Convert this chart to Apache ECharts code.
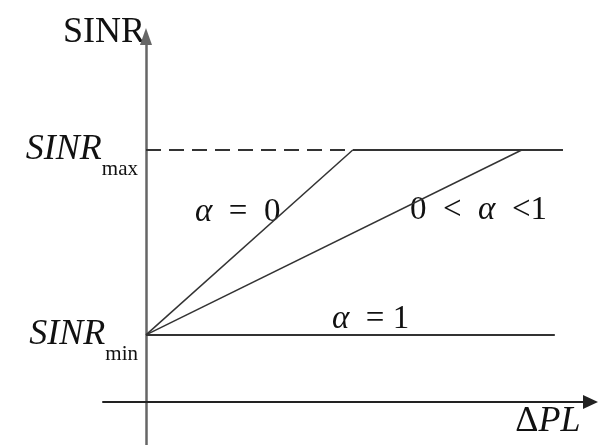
<!DOCTYPE html>
<html>
<head>
<meta charset="utf-8">
<script src="https://cdn.jsdelivr.net/npm/echarts@6/dist/echarts.min.js"></script>
<style>
html, body { margin: 0; padding: 0; background: #fff; }
#chart { width: 598px; height: 445px; }
</style>
</head>
<body>
<div id="chart"></div>
<script>
// axis ranges (y axis sits at x = 0, x axis at y = 0)
var xRange = [-1, 10.34];
var yRange = [-1, 8.5];

// SINR levels and their tick names
var yTickValues = [1.56, 5.86];
var yTickNames = ['min', 'max'];

// curves
var alpha0Line = [[0, 1.56], [4.81, 5.86]];
var alphaMidLine = [[0, 1.56], [8.74, 5.86]];
var alpha1Line = [[0, 1.56], [9.51, 1.56]];
var maxDashed = [[0, 5.86], [4.81, 5.86]];
var maxSolid = [[4.81, 5.86], [9.7, 5.86]];

var serif = 'Liberation Serif';
var ink = '#111';

function lineSeries(data, width, type) {
    return {
        type: 'line',
        data: data,
        showSymbol: false,
        silent: true,
        lineStyle: { color: '#333', width: width, type: type || 'solid' }
    };
}

var option = {
    animation: false,
    grid: {
        left: 103,
        right: 7.5,
        top: 36.5,
        bottom: 0,
        outerBoundsMode: 'none'
    },
    xAxis: {
        type: 'value',
        min: xRange[0],
        max: xRange[1],
        name: '{d|Δ}{p|PL}',
        nameLocation: 'end',
        nameGap: -10,
        nameTextStyle: {
            align: 'right',
            verticalAlign: 'top',
            padding: [2, 0, 0, 0],
            rich: {
                d: { fontFamily: serif, fontSize: 36, color: ink },
                p: { fontFamily: serif, fontSize: 36, fontStyle: 'italic', color: ink }
            }
        },
        axisLine: {
            onZero: true,
            symbol: ['none', 'triangle'],
            symbolSize: [14, 15],
            lineStyle: { color: '#222', width: 2 }
        },
        axisTick: { show: false },
        axisLabel: { show: false },
        splitLine: { show: false }
    },
    yAxis: {
        type: 'value',
        min: yRange[0],
        max: yRange[1],
        name: 'SINR',
        nameLocation: 'end',
        nameGap: 4,
        nameTextStyle: {
            fontFamily: serif,
            fontSize: 36,
            color: ink,
            align: 'right',
            verticalAlign: 'middle',
            padding: [0, 1, 0, 0]
        },
        axisLine: {
            onZero: true,
            symbol: ['none', 'triangle'],
            symbolSize: [12, 17],
            lineStyle: { color: '#666', width: 2.5 }
        },
        axisTick: { show: false },
        splitLine: { show: false },
        axisLabel: {
            customValues: yTickValues,
            margin: -35,
            formatter: function (value) {
                var i = yTickValues.indexOf(value);
                return '{s|SINR}{b|' + yTickNames[i] + '}';
            },
            rich: {
                s: { fontFamily: serif, fontSize: 36, fontStyle: 'italic', color: ink, lineHeight: 36, verticalAlign: 'top' },
                b: { fontFamily: serif, fontSize: 21, color: ink, lineHeight: 21, verticalAlign: 'top', padding: [27, 0, 0, 0] }
            }
        }
    },
    graphic: [
        {
            type: 'text',
            x: 195, y: 212,
            style: {
                text: '{a|α}{n|\u2002=\u20020}',
                verticalAlign: 'middle',
                rich: {
                    a: { fontFamily: serif, fontSize: 33, fontStyle: 'italic', fill: ink },
                    n: { fontFamily: serif, fontSize: 33, fill: ink }
                }
            }
        },
        {
            type: 'text',
            x: 410, y: 210,
            style: {
                text: '{n|0\u2002<\u2002}{a|α}{n|\u2002<1}',
                verticalAlign: 'middle',
                rich: {
                    a: { fontFamily: serif, fontSize: 33, fontStyle: 'italic', fill: ink },
                    n: { fontFamily: serif, fontSize: 33, fill: ink }
                }
            }
        },
        {
            type: 'text',
            x: 332, y: 319,
            style: {
                text: '{a|α}{n|\u2002= 1}',
                verticalAlign: 'middle',
                rich: {
                    a: { fontFamily: serif, fontSize: 33, fontStyle: 'italic', fill: ink },
                    n: { fontFamily: serif, fontSize: 33, fill: ink }
                }
            }
        }
    ],
    series: [
        lineSeries(maxDashed, 2, [15, 8]),
        lineSeries(maxSolid, 2),
        lineSeries(alpha0Line, 1.5),
        lineSeries(alphaMidLine, 1.5),
        lineSeries(alpha1Line, 2)
    ]
};

var myChart = echarts.init(document.getElementById('chart'));
myChart.setOption(option);
</script>
</body>
</html>
